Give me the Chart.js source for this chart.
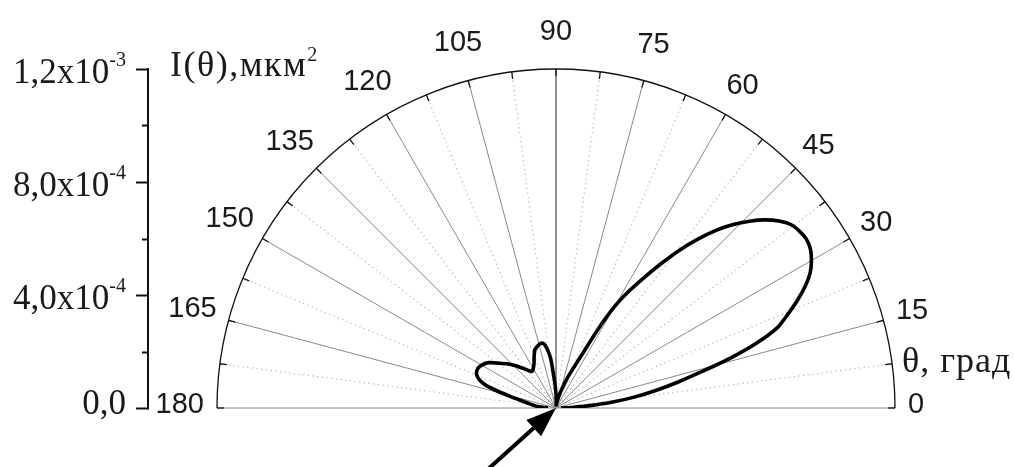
<!DOCTYPE html>
<html>
<head>
<meta charset="utf-8">
<script src="https://cdn.jsdelivr.net/npm/chart.js@4.4.1/dist/chart.umd.min.js"></script>
<style>
  html, body { margin: 0; padding: 0; background: #fff; }
  canvas { display: block; }
</style>
</head>
<body>
<canvas id="polar" width="1014" height="467"></canvas>
<script>
// Scattering diagram I(θ), θ in degrees, I in мкм²
const thetaDeg = [
  0, 2, 4, 6, 8, 10, 12, 14, 16, 18, 20, 22, 24, 26, 28, 30, 32, 34, 36, 38,
  40, 42, 44, 46, 48, 50, 52, 54, 56, 58, 60, 62, 64, 66, 68, 70, 72, 75, 78, 82,
  86, 88, 90, 92, 94, 96, 98, 100, 102, 104, 106, 108, 110, 112, 114, 116, 118, 120,
  122, 124, 126, 128, 130, 134, 138, 142, 146, 150, 153, 156, 158, 160, 162, 164,
  166, 168, 170, 173, 176, 178, 180
];
const intensity = [
  0.18e-4, 0.57e-4, 1.20e-4, 2.02e-4, 2.83e-4, 3.61e-4, 4.42e-4, 5.31e-4, 6.44e-4, 7.50e-4,
  8.35e-4, 8.85e-4, 9.35e-4, 9.81e-4, 10.19e-4, 10.44e-4, 10.62e-4, 10.69e-4, 10.65e-4, 10.55e-4,
  10.30e-4, 9.95e-4, 9.52e-4, 9.03e-4, 8.46e-4, 7.79e-4, 7.08e-4, 6.30e-4, 5.56e-4, 4.88e-4,
  4.14e-4, 3.12e-4, 2.12e-4, 1.63e-4, 1.31e-4, 1.03e-4, 0.78e-4, 0.53e-4, 0.32e-4, 0.18e-4,
  0.11e-4, 0.21e-4, 0.50e-4, 0.78e-4, 1.13e-4, 1.73e-4, 2.05e-4, 2.27e-4, 2.35e-4, 2.34e-4,
  2.30e-4, 2.25e-4, 2.19e-4, 2.05e-4, 1.91e-4, 1.77e-4, 1.68e-4, 1.61e-4,
  1.56e-4, 1.56e-4, 1.63e-4, 1.73e-4, 1.84e-4, 2.09e-4, 2.34e-4, 2.58e-4, 2.87e-4, 3.04e-4,
  3.10e-4, 3.08e-4, 3.01e-4, 2.87e-4, 2.62e-4, 2.12e-4,
  1.63e-4, 1.27e-4, 1.03e-4, 0.81e-4, 0.60e-4, 0.42e-4, 0.28e-4
];

// Angular axis
const angleTickLabels = ['0','15','30','45','60','75','90','105','120','135','150','165','180'];
const angleTickValues = [0, 15, 30, 45, 60, 75, 90, 105, 120, 135, 150, 165, 180];
const angleMinorStep = 7.5;

// Radial axis (drawn as a vertical scale on the left)
const radialMax = 1.2e-3;
const radialTickValues = [0, 4e-4, 8e-4, 1.2e-3];
const radialTickMantissa = ['0,0', '4,0x10', '8,0x10', '1,2x10'];
const radialTickExponent = ['', '-4', '-4', '-3'];
const radialMinorValues = [2e-4, 6e-4, 1e-3];

// Arrow pointing at the scattering centre: direction of the tail and its length
const arrowTailAngleDeg = 222;
const arrowTailLength = 3.6e-4;

const rad = d => d * Math.PI / 180;
const points = thetaDeg.map((t, i) => ({
  x: intensity[i] * Math.cos(rad(t)),
  y: intensity[i] * Math.sin(rad(t))
}));

const SERIF = '"Liberation Serif", "Times New Roman", serif';
const SANS = '"Liberation Sans", Arial, sans-serif';
const INK = '#1a1a1a';

function polarPx(chart, deg, r) {
  const xs = chart.scales.x, ys = chart.scales.y;
  return {
    x: xs.getPixelForValue(r * Math.cos(rad(deg))),
    y: ys.getPixelForValue(r * Math.sin(rad(deg)))
  };
}

const polarFrame = {
  id: 'polarFrame',
  beforeDatasetsDraw(chart) {
    const ctx = chart.ctx;
    const c = polarPx(chart, 0, 0);
    const R = chart.scales.x.getPixelForValue(radialMax) - c.x;
    ctx.save();
    // radial spokes
    for (let a = 0; a <= 180 + 1e-9; a += angleMinorStep) {
      const p = polarPx(chart, a, radialMax);
      const major = Math.abs(a % 15) < 1e-9;
      ctx.beginPath();
      ctx.moveTo(c.x, c.y);
      ctx.lineTo(p.x, p.y);
      if (major) {
        ctx.setLineDash([]);
        ctx.strokeStyle = (a === 90) ? '#222' : '#8a8a8a';
        ctx.lineWidth = 1;
      } else {
        ctx.setLineDash([1.2, 3.5]);
        ctx.strokeStyle = '#b4b4b4';
        ctx.lineWidth = 1.2;
      }
      ctx.stroke();
    }
    ctx.setLineDash([]);
    // outer arc
    ctx.beginPath();
    ctx.arc(c.x, c.y, R, Math.PI, 2 * Math.PI, false);
    ctx.strokeStyle = '#111';
    ctx.lineWidth = 1.3;
    ctx.stroke();
    // inward ticks on the arc
    for (let a = 0; a <= 180 + 1e-9; a += angleMinorStep) {
      const p1 = polarPx(chart, a, radialMax);
      const k = (R - 7) / R;
      ctx.beginPath();
      ctx.moveTo(p1.x, p1.y);
      ctx.lineTo(c.x + (p1.x - c.x) * k, c.y + (p1.y - c.y) * k);
      ctx.lineWidth = 1.3;
      ctx.strokeStyle = '#111';
      ctx.stroke();
    }
    ctx.restore();
  },
  afterDatasetsDraw(chart) {
    const ctx = chart.ctx;
    const area = chart.chartArea;
    const ys = chart.scales.y;
    const c = polarPx(chart, 0, 0);
    const R = chart.scales.x.getPixelForValue(radialMax) - c.x;
    ctx.save();

    // arrow
    const tail = polarPx(chart, arrowTailAngleDeg, arrowTailLength);
    const ang = Math.atan2(c.y - tail.y, c.x - tail.x);
    const headLen = 30, headHalf = 11;
    const bx = c.x - headLen * Math.cos(ang), by = c.y - headLen * Math.sin(ang);
    ctx.beginPath();
    ctx.moveTo(tail.x, tail.y);
    ctx.lineTo(bx, by);
    ctx.strokeStyle = '#000';
    ctx.lineWidth = 4;
    ctx.stroke();
    ctx.beginPath();
    ctx.moveTo(c.x, c.y);
    ctx.lineTo(bx + headHalf * Math.sin(ang), by - headHalf * Math.cos(ang));
    ctx.lineTo(bx - headHalf * Math.sin(ang), by + headHalf * Math.cos(ang));
    ctx.closePath();
    ctx.fillStyle = '#000';
    ctx.fill();

    // angle labels around the arc
    ctx.fillStyle = INK;
    ctx.font = '29px ' + SANS;
    ctx.textAlign = 'center';
    ctx.textBaseline = 'middle';
    angleTickValues.forEach((a, i) => {
      const txt = angleTickLabels[i];
      const w = ctx.measureText(txt).width;
      const s = Math.abs(Math.sin(rad(a))), co = Math.abs(Math.cos(rad(a)));
      const rr = R + 13 + (w / 2) * co + 15 * s * s + 10 * Math.pow(s, 12);
      const lift = 4 * Math.pow(co, 8);
      ctx.fillText(txt, c.x + rr * Math.cos(rad(a)), c.y - rr * Math.sin(rad(a)) + 1 - lift);
    });

    // left radial scale
    const axisX = area.left - 69;
    ctx.strokeStyle = '#111';
    ctx.lineWidth = 2;
    ctx.beginPath();
    ctx.moveTo(axisX, ys.getPixelForValue(radialMax) - 1);
    ctx.lineTo(axisX, ys.getPixelForValue(0) + 1);
    ctx.stroke();
    radialTickValues.forEach(v => {
      const y = Math.round(ys.getPixelForValue(v)) + 0.5;
      ctx.beginPath(); ctx.moveTo(axisX - 12, y); ctx.lineTo(axisX + 1, y); ctx.stroke();
    });
    radialMinorValues.forEach(v => {
      const y = Math.round(ys.getPixelForValue(v)) + 0.5;
      ctx.beginPath(); ctx.moveTo(axisX - 6, y); ctx.lineTo(axisX + 1, y); ctx.stroke();
    });
    ctx.textAlign = 'left';
    ctx.textBaseline = 'alphabetic';
    const rightEdge = axisX - 22;
    radialTickValues.forEach((v, i) => {
      const y = ys.getPixelForValue(v) + (v === 0 ? 6 : 13.5);
      ctx.font = '35px ' + SERIF;
      const wm = ctx.measureText(radialTickMantissa[i]).width;
      ctx.font = '20px ' + SERIF;
      const we = ctx.measureText(radialTickExponent[i]).width;
      ctx.font = '35px ' + SERIF;
      ctx.fillText(radialTickMantissa[i], rightEdge - we - wm, y);
      if (radialTickExponent[i]) {
        ctx.font = '20px ' + SERIF;
        ctx.fillText(radialTickExponent[i], rightEdge - we, y - 17);
      }
    });

    // axis titles
    ctx.letterSpacing = '1.5px';
    ctx.font = '36px ' + SERIF;
    const t1 = 'I(θ),мкм';
    const tx = axisX + 22, ty = area.top + 7;
    ctx.fillText(t1, tx, ty);
    const w1 = ctx.measureText(t1).width;
    ctx.font = '20px ' + SERIF;
    ctx.fillText('2', tx + w1, ty - 15);
    ctx.font = '36px ' + SERIF;
    ctx.letterSpacing = '1px';
    ctx.fillText('θ, град', area.right + 7, area.bottom - 36);
    ctx.letterSpacing = '0px';

    ctx.restore();
  }
};

new Chart(document.getElementById('polar'), {
  type: 'scatter',
  data: {
    datasets: [{
      data: points,
      showLine: true,
      borderColor: '#000',
      borderWidth: 3.6,
      pointRadius: 0,
      tension: 0.25,
      fill: false
    }]
  },
  options: {
    responsive: false,
    animation: false,
    events: [],
    layout: { padding: { left: 217, right: 119, top: 69, bottom: 59 } },
    plugins: { legend: { display: false }, tooltip: { enabled: false } },
    scales: {
      x: { type: 'linear', min: -radialMax, max: radialMax, display: false },
      y: { type: 'linear', min: 0, max: radialMax, display: false }
    }
  },
  plugins: [polarFrame, {
    id: 'whiteBg',
    beforeDraw(chart) {
      const ctx = chart.ctx;
      ctx.save();
      ctx.fillStyle = '#fff';
      ctx.fillRect(0, 0, chart.width, chart.height);
      ctx.restore();
    }
  }]
});
</script>
</body>
</html>
